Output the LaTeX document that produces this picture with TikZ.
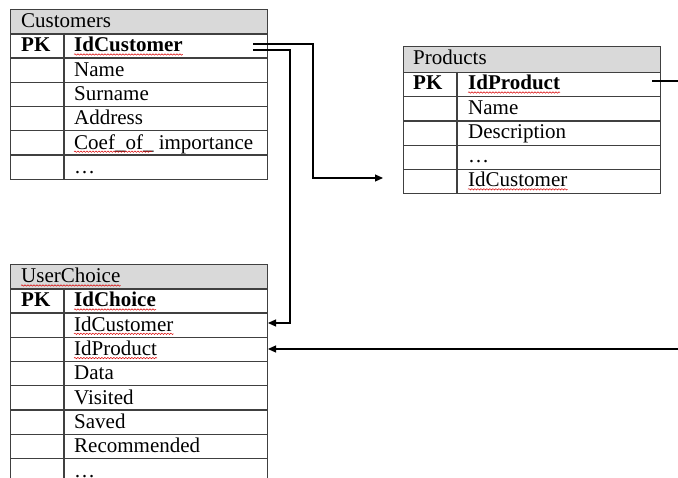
\documentclass[tikz,border=0pt]{standalone}
\usepackage{fontspec}
\setmainfont{Liberation Serif}
\usetikzlibrary{arrows.meta,decorations.pathmorphing}
\definecolor{hdr}{HTML}{D9D9D9}
\definecolor{bord}{HTML}{404040}
\begin{document}
\begin{tikzpicture}[x=1pt,y=-1pt,
  cell/.style={draw=bord,line width=1.3pt,minimum width=257pt,minimum height=24.3pt,inner sep=0pt,anchor=north west},
  hcell/.style={cell,fill=hdr},
  txt/.style={anchor=base west,inner sep=0pt,font=\fontsize{21}{24}\selectfont},
  bt/.style={anchor=base west,inner sep=0pt,font=\fontsize{21}{24}\selectfont\bfseries},
  divl/.style={draw=bord,line width=1.3pt},
  link/.style={line width=1.2pt,draw=black},
  arr/.style={link,-{Triangle[length=8pt,width=7pt]}},
  squig/.style={draw=red!85!black,line width=0.5pt,decorate,decoration={snake,amplitude=0.7pt,segment length=3pt}}]
\useasboundingbox (0,0) rectangle (678,478);

% ---------------- Customers ----------------
\node[hcell] (cH) at (10,9) {};
\foreach \i in {0,...,5} \node[cell] (c\i) at (10,{33+24.3*\i}) {};
\draw[divl] (64,33) -- (64,178.8);
\node[txt] (cHt) at (21,28) {Customers};
\node[bt] (cpk) at (21,52) {PK};
\node[bt] (cf0) at (74,52) {IdCustomer};
\node[txt] (cf1) at (74,76.3) {Name};
\node[txt] (cf2) at (74,100.6) {Surname};
\node[txt] (cf3) at (74,124.9) {Address};
\node[txt] (cf4) at (74,149.2) {Coef\_of\_ importance};
\node[txt] (cf5) at (74,173.5) {\dots};
\draw[squig] ([yshift=-2.5pt]cf0.base west) -- ([yshift=-2.5pt]cf0.base east);
\draw[squig] ([yshift=-2.5pt]cf4.base west) -- ++(78,0);

% ---------------- Products ----------------
\node[hcell,minimum height=26pt] (pH) at (403,46) {};
\foreach \i in {0,...,4} \node[cell,minimum height=24.2pt] (p\i) at (403,{72+24.2*\i}) {};
\draw[divl] (457,72) -- (457,193);
\node[txt] (pHt) at (413,65) {Products};
\node[bt] (ppk) at (413,90) {PK};
\node[bt] (pf0) at (468,90) {IdProduct};
\node[txt] (pf1) at (468,114.2) {Name};
\node[txt] (pf2) at (468,138.4) {Description};
\node[txt] (pf3) at (468,162.6) {\dots};
\node[txt] (pf4) at (468,186.8) {IdCustomer};
\draw[squig] ([yshift=-2.5pt]pf0.base west) -- ([yshift=-2.5pt]pf0.base east);
\draw[squig] ([yshift=-2.5pt]pf4.base west) -- ([yshift=-2.5pt]pf4.base east);

% ---------------- UserChoice ----------------
\node[hcell] (uH) at (10,264) {};
\foreach \i in {0,...,7} \node[cell] (u\i) at (10,{288+24.3*\i}) {};
\draw[divl] (64,288) -- (64,482.4);
\node[txt] (uHt) at (21,283) {UserChoice};
\node[bt] (upk) at (21,307) {PK};
\node[bt] (uf0) at (74,307) {IdChoice};
\node[txt] (uf1) at (74,331.3) {IdCustomer};
\node[txt] (uf2) at (74,355.6) {IdProduct};
\node[txt] (uf3) at (74,379.9) {Data};
\node[txt] (uf4) at (74,404.2) {Visited};
\node[txt] (uf5) at (74,428.5) {Saved};
\node[txt] (uf6) at (74,452.8) {Recommended};
\node[txt] (uf7) at (74,477.1) {\dots};
\draw[squig] ([yshift=-2.5pt]uHt.base west) -- ([yshift=-2.5pt]uHt.base east);
\draw[squig] ([yshift=-2.5pt]uf0.base west) -- ([yshift=-2.5pt]uf0.base east);
\draw[squig] ([yshift=-2.5pt]uf1.base west) -- ([yshift=-2.5pt]uf1.base east);
\draw[squig] ([yshift=-2.5pt]uf2.base west) -- ([yshift=-2.5pt]uf2.base east);

% ---------------- Connectors ----------------
\coordinate (s1) at (253,44);
\coordinate (s2) at (253,50);
\coordinate (pin) at (383,178);
\coordinate (uin1) at (268,323);
\coordinate (uin2) at (268,349);
\coordinate (ps) at (652,81);
\coordinate (pe) at (678,81);
\coordinate (re) at (678,349);
\draw[arr] (s1) -- (313,44) -- (313,178) -- (pin);
\draw[arr] (s2) -- (290,50) -- (290,323) -- (uin1);
\draw[link] (ps) -- (pe);
\draw[arr] (re) -- (uin2);
\end{tikzpicture}
\end{document}
